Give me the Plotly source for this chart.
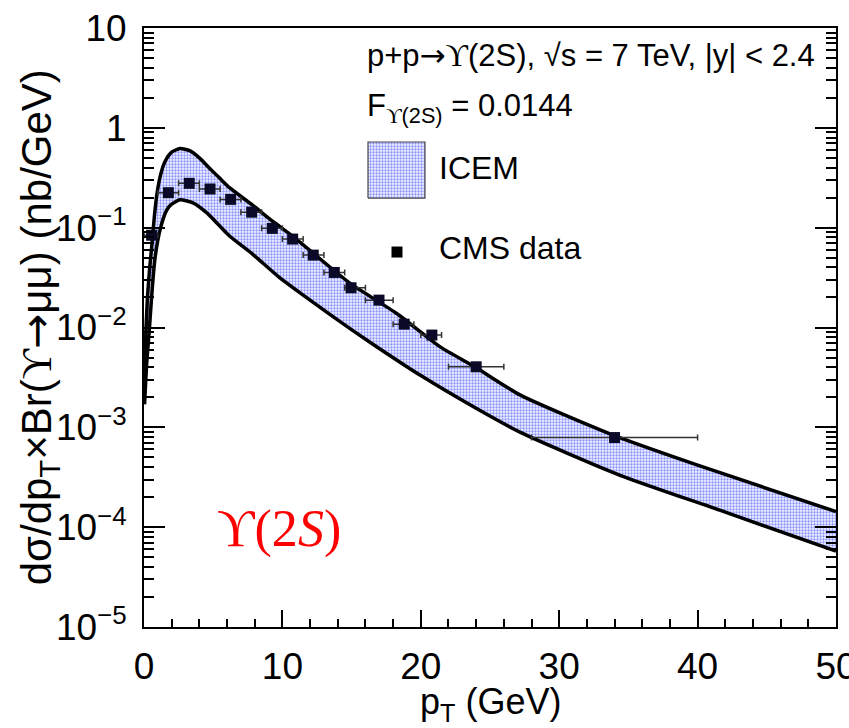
import plotly.graph_objects as go

# ---------------- data ----------------
pt_up = [0.04, 0.1, 0.14, 0.25, 0.4, 0.56, 0.75, 0.92, 1.2, 1.52, 2.0, 2.6, 3.3, 4.0, 4.77, 5.5, 6.2,
         7.8, 9.34, 10.8, 13.4, 15.0, 18.26, 21.4, 23.9, 27.2, 33.9, 40.0, 50.0]
icem_up = [0.0022, 0.006, 0.0093, 0.02, 0.038, 0.065, 0.13, 0.21, 0.34, 0.46, 0.57, 0.62, 0.59, 0.5,
           0.39, 0.31, 0.25, 0.17, 0.1146, 0.081, 0.0406, 0.027, 0.0138, 0.0064, 0.00404, 0.0021,
           0.000836, 0.000418, 0.000143]
pt_lo = [0.04, 0.2, 0.38, 0.6, 0.8, 1.16, 1.64, 2.0, 2.6, 3.5, 4.5, 5.3, 6.2, 7.8, 9.8, 11.5, 13.4,
         15.2, 17.05, 20.0, 23.9, 27.2, 34.4, 41.6, 50.0]
icem_lo = [0.0017, 0.0045, 0.0093, 0.025, 0.05, 0.095, 0.15, 0.172, 0.19, 0.178, 0.142, 0.11, 0.082,
           0.055, 0.0316, 0.0211, 0.0136, 0.0091, 0.0061, 0.0033, 0.00158, 0.00089, 0.000331,
           0.000148, 0.0000575]

cms_pt = [0.55, 1.76, 3.27, 4.77, 6.26, 7.78, 9.27, 10.74, 12.23, 13.75, 14.96, 16.98, 18.8, 20.8, 24.0, 34.0]
cms_lo = [0.0, 1.0, 2.5, 4.0, 5.5, 7.0, 8.5, 10.0, 11.5, 13.0, 14.5, 16.0, 18.0, 20.0, 22.0, 28.0]
cms_hi = [1.0, 2.5, 4.0, 5.5, 7.0, 8.5, 10.0, 11.5, 13.0, 14.5, 16.0, 18.0, 19.5, 21.5, 26.0, 40.0]
cms_val = [0.084, 0.224, 0.278, 0.244, 0.192, 0.143, 0.0984, 0.0769, 0.0531, 0.0356, 0.025,
           0.0188, 0.0108, 0.0084, 0.00404, 0.00079]

y_tickvals = [1e-5, 1e-4, 1e-3, 1e-2, 1e-1, 1, 10]
y_ticktext = ["10<sup>\u22125</sup>", "10<sup>\u22124</sup>", "10<sup>\u22123</sup>",
              "10<sup>\u22122</sup>", "10<sup>\u22121</sup>", "1", "10"]
y_minor = [m * 10 ** e for e in range(-5, 1) for m in range(2, 10)]
x_tickvals = [0, 10, 20, 30, 40, 50]

# legend box corners (axis-fraction coordinates of the overlay axes)
leg_x = [0.3237, 0.406, 0.406, 0.3237, 0.3237]
leg_y = [0.716, 0.716, 0.8097, 0.8097, 0.716]

# ---------------- figure ----------------
FONT = "Liberation Sans, Arial, sans-serif"
UPS = "<span style='font-family:Liberation Serif, DejaVu Serif, serif'>\u03d2</span>"
ARR = "<span style='font-family:DejaVu Sans'>\u2192</span>"
pattern = dict(shape=".", fgcolor="#1f2ff5", bgcolor="rgba(215,220,255,0.3)", size=3, solidity=0.45)

err_plus = [h - p for h, p in zip(cms_hi, cms_pt)]
err_minus = [p - l for l, p in zip(cms_lo, cms_pt)]

fig = go.Figure()
fig.add_trace(go.Scatter(
    x=pt_lo, y=icem_lo, mode="lines", line=dict(color="black", width=3.5, shape="spline", smoothing=0.6),
    showlegend=False))
fig.add_trace(go.Scatter(
    x=pt_up, y=icem_up, mode="lines", line=dict(color="black", width=3.5, shape="spline", smoothing=0.6),
    fill="tonexty", fillcolor="rgba(0,0,0,0)", fillpattern=pattern, showlegend=False))
fig.add_trace(go.Scatter(
    x=cms_pt, y=cms_val, mode="markers",
    marker=dict(symbol="square", size=11, color="#0a0a28"),
    error_x=dict(type="data", symmetric=False, array=err_plus, arrayminus=err_minus,
                 color="#333333", thickness=1.5, width=3),
    showlegend=False))

# invisible trace carrying the right-hand tick axis
fig.add_trace(go.Scatter(x=[1], y=[1], mode="markers", marker=dict(opacity=0),
                         yaxis="y3", showlegend=False, hoverinfo="skip"))

# legend swatch and marker on an overlay axis pair (0..1)
fig.add_trace(go.Scatter(
    x=leg_x, y=leg_y, mode="lines", line=dict(color="#444444", width=1.2),
    fill="toself", fillcolor="rgba(0,0,0,0)", fillpattern=pattern,
    xaxis="x2", yaxis="y2", showlegend=False))
fig.add_trace(go.Scatter(
    x=[0.3656], y=[0.626], mode="markers", marker=dict(symbol="square", size=11, color="black"),
    xaxis="x2", yaxis="y2", showlegend=False))

tick_common = dict(ticks="inside", tickwidth=2, tickcolor="black", showgrid=False, zeroline=False,
                   automargin=False)

fig.update_layout(
    width=849, height=728,
    margin=dict(l=144, r=13, t=28, b=101, autoexpand=False),
    paper_bgcolor="white", plot_bgcolor="white",
    font=dict(family=FONT, color="black"),
    xaxis=dict(range=[0, 50], tickvals=x_tickvals, ticklen=17, **tick_common,
               showline=True, linewidth=2, linecolor="black", mirror=True,
               tickfont=dict(size=37, family=FONT), ticklabelstandoff=6,
               ticklabeloverflow="allow",
               minor=dict(dtick=2, ticks="inside", ticklen=8, tickwidth=2, tickcolor="black",
                          showgrid=False)),
    yaxis=dict(type="log", range=[-5, 1], tickvals=y_tickvals, ticktext=y_ticktext,
               ticklen=21, **tick_common,
               showline=True, linewidth=2, linecolor="black", mirror=True,
               tickfont=dict(size=37, family=FONT), ticklabelstandoff=8,
               minor=dict(tickvals=y_minor, ticks="inside", ticklen=10, tickwidth=2,
                          tickcolor="black", showgrid=False)),
    yaxis3=dict(type="log", range=[-5, 1], overlaying="y", side="right", anchor="x",
                tickvals=y_tickvals, showticklabels=False, ticklen=21, **tick_common,
                showline=False,
                minor=dict(tickvals=y_minor, ticks="inside", ticklen=10, tickwidth=2,
                           tickcolor="black", showgrid=False)),
    xaxis2=dict(overlaying="x", range=[0, 1], visible=False, anchor="y2", automargin=False),
    yaxis2=dict(overlaying="y", range=[0, 1], visible=False, anchor="x2", automargin=False),
)

ann = [
    dict(text="p+p" + ARR + UPS + "(2S), \u221as = 7 TeV, |y| < 2.4", x=0.3194, y=0.955,
         xanchor="left", yanchor="middle", font=dict(size=31)),
    dict(text="F<sub>" + UPS + "(2S)</sub> = 0.0144", x=0.3194, y=0.866,
         xanchor="left", yanchor="middle", font=dict(size=31)),
    dict(text="ICEM", x=0.4234, y=0.767, xanchor="left", yanchor="middle", font=dict(size=32)),
    dict(text="CMS data", x=0.4234, y=0.633, xanchor="left", yanchor="middle", font=dict(size=32)),
    dict(text="\u03d2(2<i>S</i>)", x=0.195, y=0.163, xanchor="center", yanchor="middle",
         font=dict(size=52, color="red", family="Liberation Serif, DejaVu Serif, serif")),
    dict(text="p<sub>T</sub> (GeV)", x=0.5, y=-0.128, xanchor="center", yanchor="middle",
         font=dict(size=36)),
    dict(text="d\u03c3/dp<sub>T</sub>\u00d7Br(" + UPS + ARR + "\u03bc\u03bc) (nb/GeV)", x=-0.152, y=0.5,
         xanchor="center", yanchor="middle", textangle=-90, font=dict(size=42)),
]
for a in ann:
    a.update(xref="paper", yref="paper", showarrow=False)
    fig.add_annotation(**a)

fig.write_html("out.html")
